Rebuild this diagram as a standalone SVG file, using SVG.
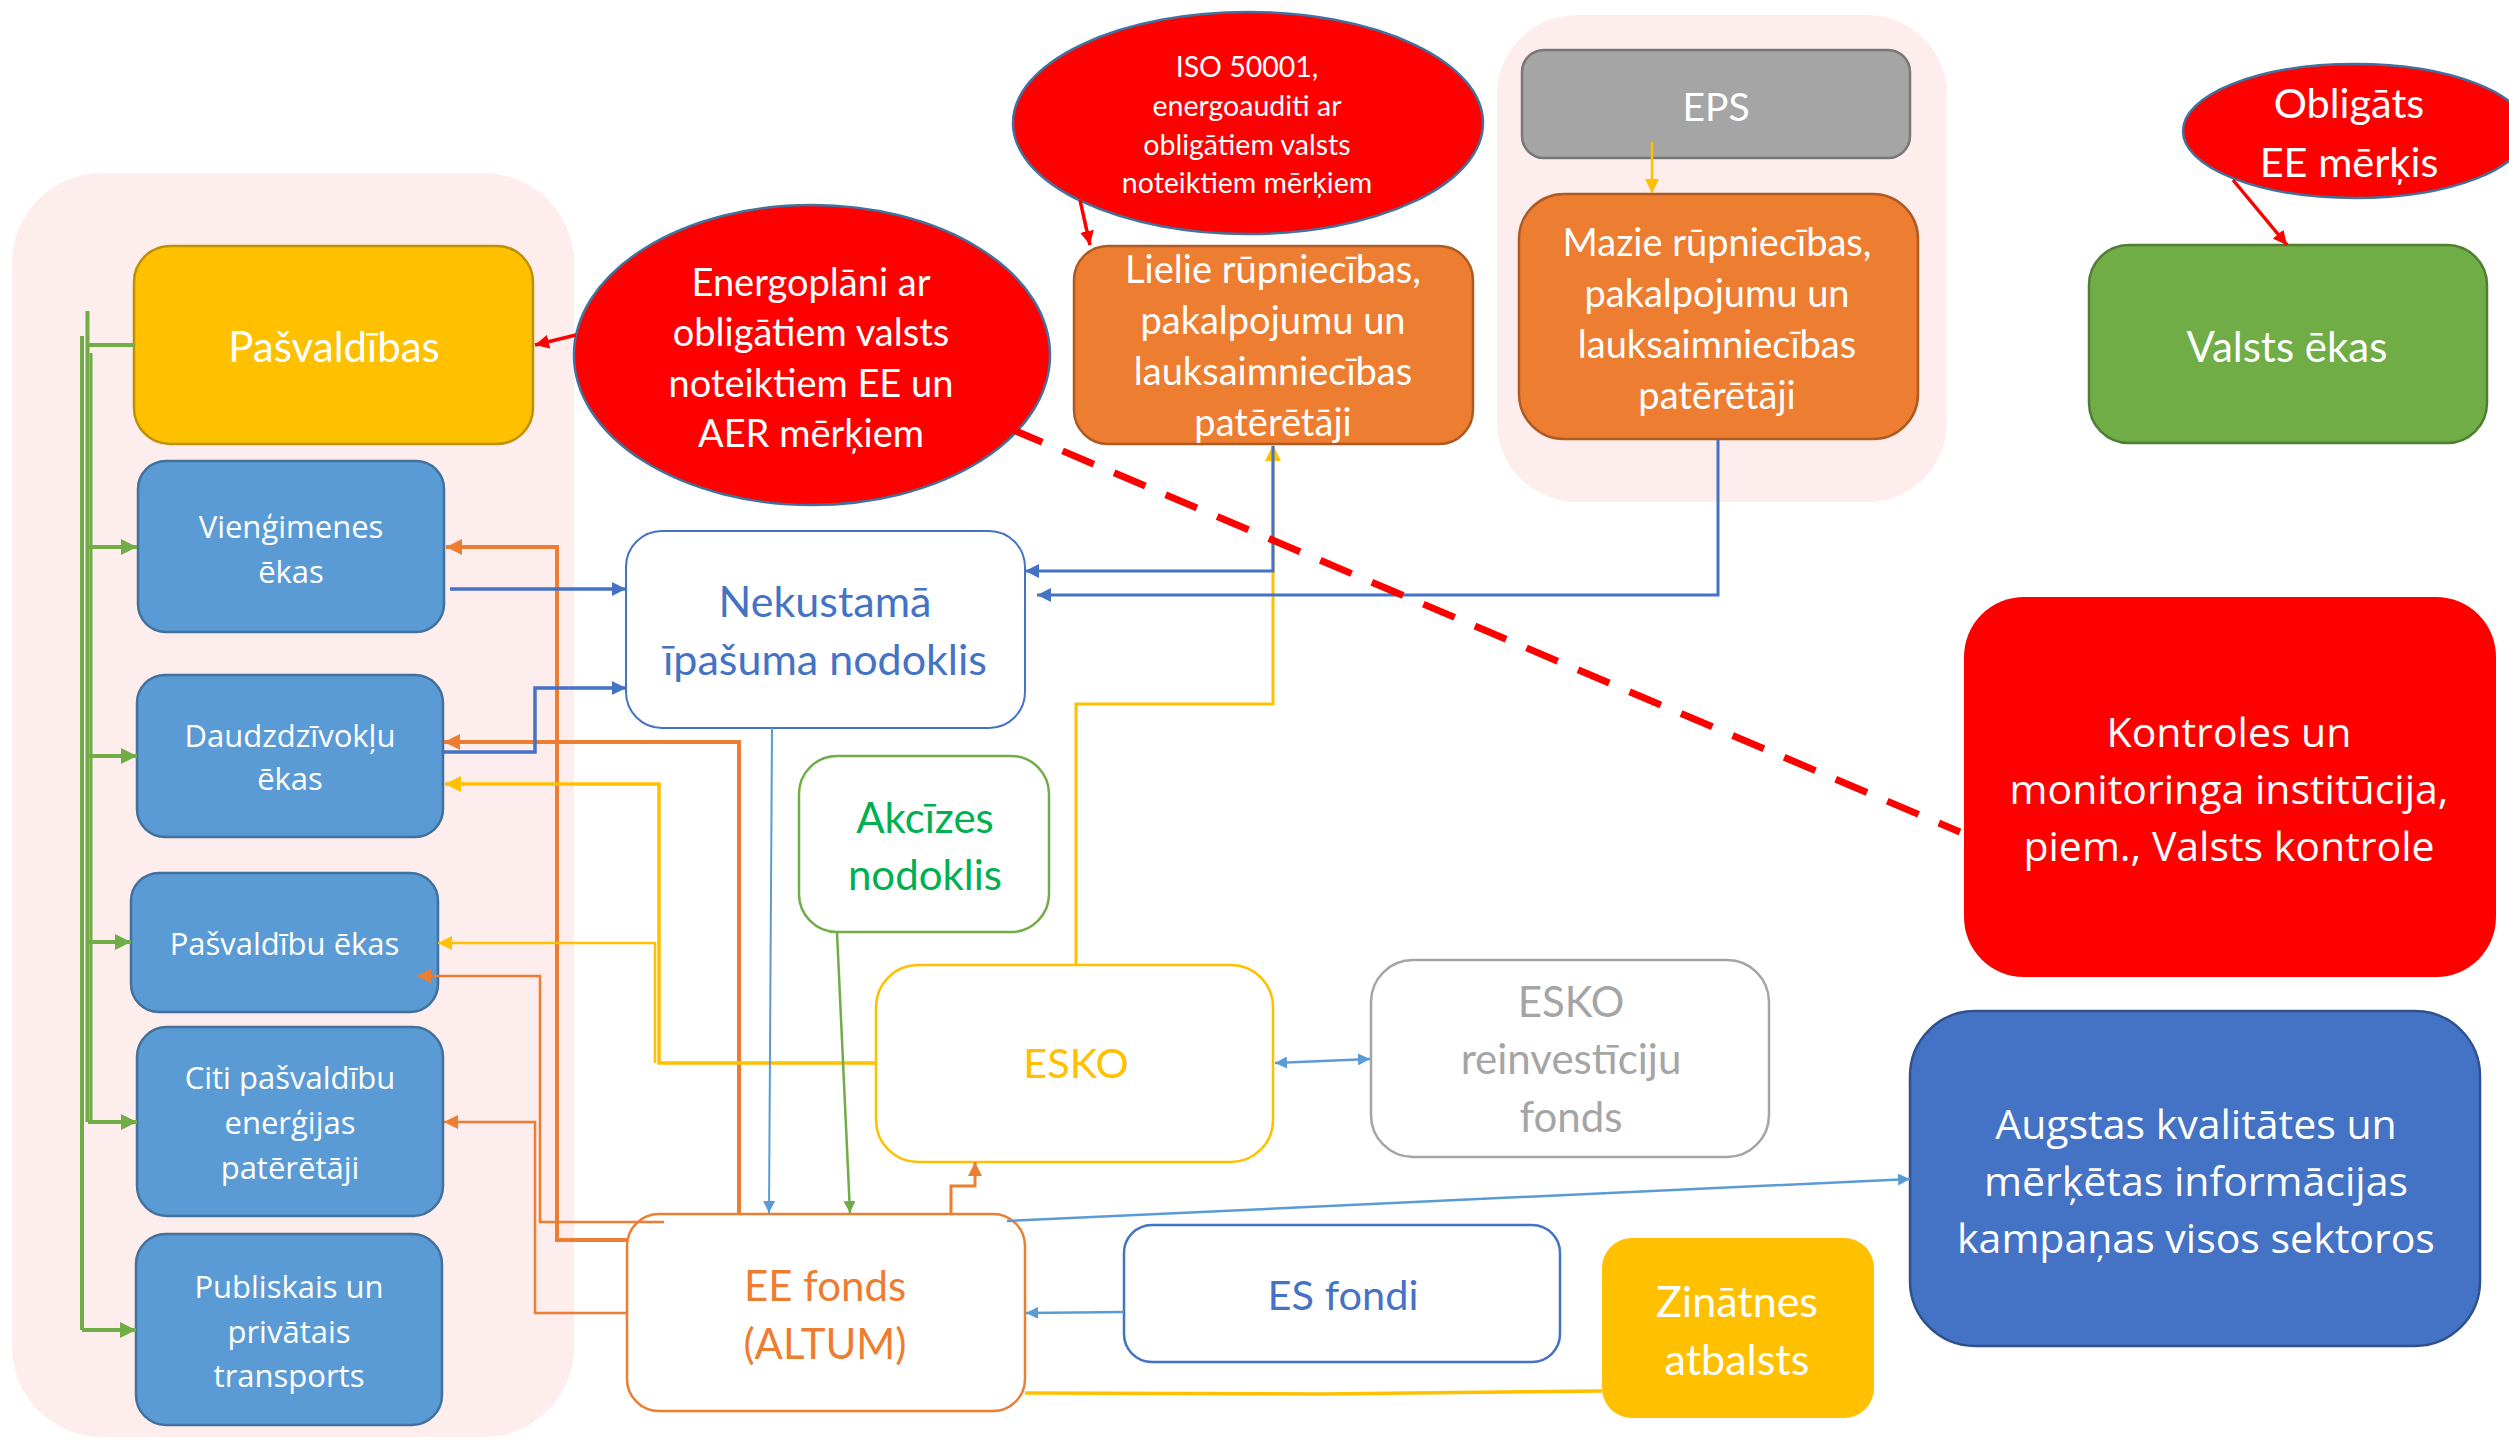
<svg xmlns="http://www.w3.org/2000/svg" width="2509" height="1440" viewBox="0 0 2509 1440">
<defs>
<style>
.lt{font-family:Lato,"Liberation Sans",sans-serif;text-anchor:middle}
.os{font-family:"Open Sans","DejaVu Sans",sans-serif;text-anchor:middle}
.w{fill:#fff}
.c{fill:none;stroke-linejoin:miter}
.bl{fill:#5B9BD5;stroke:#41719C;stroke-width:2.5}
.or{fill:#ED7D31;stroke:#AE5A21;stroke-width:2.5}
.el{fill:#FF0000;stroke:#41719C;stroke-width:2.5}
</style>
<marker id="aG" markerUnits="userSpaceOnUse" markerWidth="16" markerHeight="16" refX="16" refY="8" orient="auto"><path d="M0,0L16,8L0,16z" fill="#70AD47"/></marker>
<marker id="aGs" markerUnits="userSpaceOnUse" markerWidth="12" markerHeight="12" refX="12" refY="6" orient="auto"><path d="M0,0L12,6L0,12z" fill="#70AD47"/></marker>
<marker id="aO" markerUnits="userSpaceOnUse" markerWidth="16" markerHeight="16" refX="16" refY="8" orient="auto"><path d="M0,0L16,8L0,16z" fill="#ED7D31"/></marker>
<marker id="aOs" markerUnits="userSpaceOnUse" markerWidth="14" markerHeight="14" refX="14" refY="7" orient="auto"><path d="M0,0L14,7L0,14z" fill="#ED7D31"/></marker>
<marker id="aY" markerUnits="userSpaceOnUse" markerWidth="16" markerHeight="16" refX="16" refY="8" orient="auto"><path d="M0,0L16,8L0,16z" fill="#FFC000"/></marker>
<marker id="aYs" markerUnits="userSpaceOnUse" markerWidth="14" markerHeight="14" refX="14" refY="7" orient="auto"><path d="M0,0L14,7L0,14z" fill="#FFC000"/></marker>
<marker id="aB" markerUnits="userSpaceOnUse" markerWidth="14" markerHeight="14" refX="14" refY="7" orient="auto"><path d="M0,0L14,7L0,14z" fill="#4472C4"/></marker>
<marker id="aL" markerUnits="userSpaceOnUse" markerWidth="12" markerHeight="12" refX="12" refY="6" orient="auto-start-reverse"><path d="M0,0L12,6L0,12z" fill="#5B9BD5"/></marker>
<marker id="aR" markerUnits="userSpaceOnUse" markerWidth="14" markerHeight="14" refX="14" refY="7" orient="auto"><path d="M0,0L14,7L0,14z" fill="#FF0000"/></marker>
</defs>
<rect width="2509" height="1440" fill="#fff"/>

<g id="containers">
<rect x="12" y="173" width="562" height="1264" rx="90" fill="#FDEDED"/>
<rect x="1497" y="15" width="450" height="487" rx="80" fill="#FDEDED"/>
</g>

<g id="n-pasvaldibas">
<rect x="134" y="246" width="399" height="198" rx="36" fill="#FFC000" stroke="#BF9000" stroke-width="2.5"/>
<text class="lt w" x="334" y="362" font-size="42">Pašvaldības</text>
</g>
<g id="n-viengimenes">
<rect class="bl" x="138" y="461" width="306" height="171" rx="28"/>
<text class="os w" x="291" y="538" font-size="31">Vienģimenes</text>
<text class="os w" x="291" y="583" font-size="31">ēkas</text>
</g>
<g id="n-daudzdzivoklu">
<rect class="bl" x="137" y="675" width="306" height="162" rx="28"/>
<text class="os w" x="290" y="747" font-size="31">Daudzdzīvokļu</text>
<text class="os w" x="290" y="790" font-size="31">ēkas</text>
</g>
<g id="n-pasvaldibu-ekas">
<rect class="bl" x="131" y="873" width="307" height="139" rx="28"/>
<text class="os w" x="284.5" y="955" font-size="31">Pašvaldību ēkas</text>
</g>
<g id="n-citi">
<rect class="bl" x="137" y="1027" width="306" height="189" rx="30"/>
<text class="os w" x="290" y="1089" font-size="31">Citi pašvaldību</text>
<text class="os w" x="290" y="1134" font-size="31">enerģijas</text>
<text class="os w" x="290" y="1179" font-size="31">patērētāji</text>
</g>
<g id="n-publiskais">
<rect class="bl" x="136" y="1234" width="306" height="191" rx="30"/>
<text class="os w" x="289" y="1298" font-size="31">Publiskais un</text>
<text class="os w" x="289" y="1343" font-size="31">privātais</text>
<text class="os w" x="289" y="1387" font-size="31">transports</text>
</g>
<g id="n-energoplani">
<ellipse class="el" cx="812" cy="355" rx="238" ry="150"/>
<text class="lt w" x="811" y="296" font-size="38">Energoplāni ar</text>
<text class="lt w" x="811" y="346" font-size="38">obligātiem valsts</text>
<text class="lt w" x="811" y="397" font-size="38">noteiktiem EE un</text>
<text class="lt w" x="811" y="447" font-size="38">AER mērķiem</text>
</g>
<g id="n-iso">
<ellipse class="el" cx="1248" cy="123" rx="235" ry="111"/>
<text class="lt w" x="1247" y="77" font-size="28.5">ISO 50001,</text>
<text class="lt w" x="1247" y="116" font-size="28.5">energoauditi ar</text>
<text class="lt w" x="1247" y="155" font-size="28.5">obligātiem valsts</text>
<text class="lt w" x="1247" y="193" font-size="28.5">noteiktiem mērķiem</text>
</g>
<g id="n-lielie">
<rect class="or" x="1074" y="246" width="399" height="198" rx="34"/>
<text class="lt w" x="1273" y="283" font-size="38">Lielie rūpniecības,</text>
<text class="lt w" x="1273" y="334" font-size="38">pakalpojumu un</text>
<text class="lt w" x="1273" y="385" font-size="38">lauksaimniecības</text>
<text class="lt w" x="1273" y="436" font-size="38">patērētāji</text>
</g>
<g id="n-eps">
<rect x="1522" y="50" width="388" height="108" rx="22" fill="#A5A5A5" stroke="#787878" stroke-width="2.5"/>
<text class="lt w" x="1716" y="121" font-size="39">EPS</text>
</g>
<g id="n-mazie">
<rect class="or" x="1519" y="194" width="399" height="245" rx="45"/>
<text class="lt w" x="1717" y="256" font-size="38">Mazie rūpniecības,</text>
<text class="lt w" x="1717" y="307" font-size="38">pakalpojumu un</text>
<text class="lt w" x="1717" y="358" font-size="38">lauksaimniecības</text>
<text class="lt w" x="1717" y="409" font-size="38">patērētāji</text>
</g>
<g id="n-obligats">
<ellipse class="el" cx="2355" cy="131" rx="172" ry="67"/>
<text class="lt w" x="2349" y="118" font-size="41.5">Obligāts</text>
<text class="lt w" x="2349" y="177" font-size="41.5">EE mērķis</text>
</g>
<g id="n-valsts">
<rect x="2089" y="245" width="398" height="198" rx="40" fill="#70AD47" stroke="#507E32" stroke-width="2.5"/>
<text class="lt w" x="2287" y="362" font-size="42">Valsts ēkas</text>
</g>
<g id="n-nekustama">
<rect x="626" y="531" width="399" height="197" rx="36" fill="#fff" stroke="#4472C4" stroke-width="2"/>
<text class="lt" x="825" y="617" font-size="43" fill="#4472C4">Nekustamā</text>
<text class="lt" x="825" y="675" font-size="43" fill="#4472C4">īpašuma nodoklis</text>
</g>
<g id="n-akcizes">
<rect x="799" y="756" width="250" height="176" rx="38" fill="#fff" stroke="#70AD47" stroke-width="2.5"/>
<text class="lt" x="925" y="833" font-size="42" fill="#00B050">Akcīzes</text>
<text class="lt" x="925" y="890" font-size="42" fill="#00B050">nodoklis</text>
</g>
<g id="n-esko">
<rect x="876" y="965" width="397" height="197" rx="42" fill="#fff" stroke="#FFC000" stroke-width="2.5"/>
<text class="lt" x="1076" y="1078" font-size="41.5" fill="#FFC000">ESKO</text>
</g>
<g id="n-esko-fonds">
<rect x="1371" y="960" width="398" height="197" rx="42" fill="#fff" stroke="#A5A5A5" stroke-width="2.5"/>
<text class="lt" x="1571" y="1017" font-size="42" fill="#A5A5A5">ESKO</text>
<text class="lt" x="1571" y="1074" font-size="42" fill="#A5A5A5">reinvestīciju</text>
<text class="lt" x="1571" y="1132" font-size="42" fill="#A5A5A5">fonds</text>
</g>
<g id="n-ee-fonds">
<rect x="627" y="1214" width="398" height="197" rx="32" fill="#fff" stroke="#ED7D31" stroke-width="2.5"/>
<text class="lt" x="825" y="1301" font-size="42" fill="#ED7D31">EE fonds</text>
<text class="lt" x="825" y="1359" font-size="42" fill="#ED7D31">(ALTUM)</text>
</g>
<g id="n-es-fondi">
<rect x="1124" y="1225" width="436" height="137" rx="28" fill="#fff" stroke="#4472C4" stroke-width="2.5"/>
<text class="lt" x="1343" y="1310" font-size="41.5" fill="#4472C4">ES fondi</text>
</g>
<g id="n-zinatnes">
<rect x="1602" y="1238" width="272" height="180" rx="30" fill="#FFC000"/>
<text class="lt w" x="1737" y="1317" font-size="43">Zinātnes</text>
<text class="lt w" x="1737" y="1375" font-size="43">atbalsts</text>
</g>
<g id="n-kontroles">
<rect x="1964" y="597" width="532" height="380" rx="60" fill="#FF0000"/>
<text class="os w" x="2229" y="747" font-size="41">Kontroles un</text>
<text class="os w" x="2229" y="804" font-size="41">monitoringa institūcija,</text>
<text class="os w" x="2229" y="861" font-size="41">piem., Valsts kontrole</text>
</g>
<g id="n-augstas">
<rect x="1910" y="1011" width="570" height="335" rx="65" fill="#4472C4" stroke="#2F528F" stroke-width="2.5"/>
<text class="os w" x="2196" y="1139" font-size="41">Augstas kvalitātes un</text>
<text class="os w" x="2196" y="1196" font-size="41">mērķētas informācijas</text>
<text class="os w" x="2196" y="1253" font-size="41">kampaņas visos sektoros</text>
</g>

<g id="connectors">
<path class="c" d="M135,345H87.5" stroke="#70AD47" stroke-width="4"/>
<path class="c" d="M87.5,311V1122" stroke="#70AD47" stroke-width="4"/>
<path class="c" d="M91,353V1122" stroke="#70AD47" stroke-width="3"/>
<path class="c" d="M82,336V1330" stroke="#70AD47" stroke-width="4"/>
<path class="c" d="M88,547H137" stroke="#70AD47" stroke-width="4" marker-end="url(#aG)"/>
<path class="c" d="M88,756H137" stroke="#70AD47" stroke-width="4" marker-end="url(#aG)"/>
<path class="c" d="M88,942H131" stroke="#70AD47" stroke-width="4" marker-end="url(#aG)"/>
<path class="c" d="M88,1122H137" stroke="#70AD47" stroke-width="4" marker-end="url(#aG)"/>
<path class="c" d="M82,1330H136" stroke="#70AD47" stroke-width="4" marker-end="url(#aG)"/>
<path class="c" d="M627,1240H557V547H446" stroke="#ED7D31" stroke-width="4" marker-end="url(#aO)"/>
<path class="c" d="M739,1214V742H444" stroke="#ED7D31" stroke-width="4" marker-end="url(#aO)"/>
<path class="c" d="M664,1222H540V976H417" stroke="#ED7D31" stroke-width="2.5" marker-end="url(#aOs)"/>
<path class="c" d="M627,1313H535V1122H444" stroke="#ED7D31" stroke-width="2.5" marker-end="url(#aOs)"/>
<path class="c" d="M951,1215V1186H975V1162" stroke="#ED7D31" stroke-width="3" marker-end="url(#aOs)"/>
<path class="c" d="M876,1063H659V784H445" stroke="#FFC000" stroke-width="3.5" marker-end="url(#aY)"/>
<path class="c" d="M655,1063V943H438" stroke="#FFC000" stroke-width="2.5" marker-end="url(#aYs)"/>
<path class="c" d="M1076,965V704H1273V445" stroke="#FFC000" stroke-width="3" marker-end="url(#aY)"/>
<path class="c" d="M1652,142V193" stroke="#FFC000" stroke-width="2.5" marker-end="url(#aYs)"/>
<path class="c" d="M1025,1393L1321,1394L1602,1391" stroke="#FFC000" stroke-width="3.5"/>
<path class="c" d="M450,589H626" stroke="#4472C4" stroke-width="3.5" marker-end="url(#aB)"/>
<path class="c" d="M443,752H535V688H626" stroke="#4472C4" stroke-width="3.5" marker-end="url(#aB)"/>
<path class="c" d="M1273,446V571H1025" stroke="#4472C4" stroke-width="3" marker-end="url(#aB)"/>
<path class="c" d="M1718,439V595H1037" stroke="#4472C4" stroke-width="3" marker-end="url(#aB)"/>
<path class="c" d="M772,728L769,1213" stroke="#5B9BD5" stroke-width="2" marker-end="url(#aL)"/>
<path class="c" d="M1275,1063L1370,1059" stroke="#5B9BD5" stroke-width="2.5" marker-start="url(#aL)" marker-end="url(#aL)"/>
<path class="c" d="M1007,1221L1910,1179" stroke="#5B9BD5" stroke-width="2.5" marker-end="url(#aL)"/>
<path class="c" d="M1124,1312L1026,1313" stroke="#5B9BD5" stroke-width="2.5" marker-end="url(#aL)"/>
<path class="c" d="M837,932L850,1213" stroke="#70AD47" stroke-width="2.5" marker-end="url(#aGs)"/>
<path class="c" d="M576,335L535,345" stroke="#FF0000" stroke-width="3.5" marker-end="url(#aR)"/>
<path class="c" d="M1080,200L1090,245" stroke="#FF0000" stroke-width="3.5" marker-end="url(#aR)"/>
<path class="c" d="M2233,180L2287,245" stroke="#FF0000" stroke-width="3.5" marker-end="url(#aR)"/>
<path class="c" d="M1011,429L1960,832" stroke="#FF0000" stroke-width="7" stroke-dasharray="34 22"/>
</g>
</svg>
